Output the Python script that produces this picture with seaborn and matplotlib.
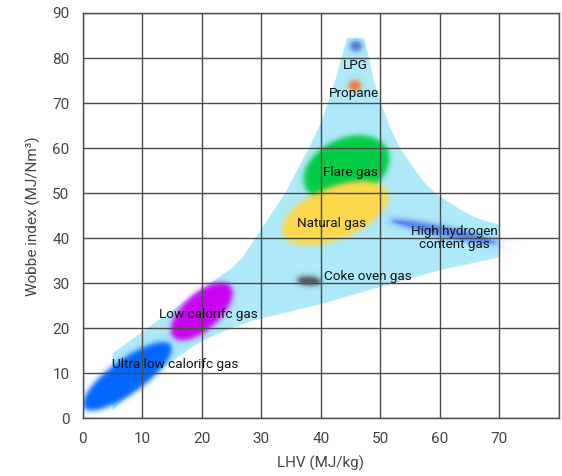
import numpy as np
import pandas as pd
import seaborn as sns
import matplotlib.pyplot as plt

# outline of the light blue area (LHV MJ/kg, Wobbe MJ/Nm3), walked round clockwise
band_lhv = [5, 5, 10, 15, 21, 25, 27, 29, 31.5, 34, 36, 38, 39.8, 41.2, 42.4, 43.5, 44.4,
            47.2, 48.1, 48.9, 50.1, 51.5, 53.3, 55.8, 57.3, 59.2, 61.5, 63.5, 65.6, 68, 70.1,
            70.1, 60, 50, 40, 33.2, 28, 25, 21, 18, 15, 12.2, 8.5, 5]
band_wobbe = [1.8, 14.4, 19.2, 24, 29.6, 33.3, 36, 40, 45, 50, 55, 60, 65, 70, 75, 80, 84.4,
              84.4, 80, 75, 70, 65, 60, 55.2, 52.5, 50, 48, 46.3, 44.8, 43.7, 43,
              35.8, 32.9, 29.2, 25.4, 23.2, 21.5, 20, 17.8, 15.5, 12.6, 10, 6, 1.8]

# gas families: centre of each blob
gas_names = ["Ultra low calorifc gas", "Low calorifc gas", "Coke oven gas", "Flare gas",
             "Natural gas", "High hydrogen content gas", "LPG", "Propane"]
gas_lhv = [7.4, 19.9, 37.9, 44.2, 42.3, 60.6, 45.8, 45.6]
gas_wobbe = [9.2, 23.6, 30.4, 55.3, 45.4, 41.3, 82.5, 73.7]
# blob half length / half width (px) and tilt (deg) on the page
blob_a = [53, 38, 11, 45, 56, 53, 5.5, 5.5]
blob_b = [17, 18, 4.5, 30, 26, 5.5, 5, 5]
blob_angle = [36, 42, -3, 25, 22, -12, 0, 0]
blob_color = ["#0066ff", "#cc00f2", "#4d4d4d", "#00cc44", "#ffd94a", "#4a74f0", "#4a70d2", "#f87528"]
blob_alpha = [1, 1, 0.95, 1, 1, 0.85, 0.95, 1]

# text labels
label_text = ["Ultra low calorifc gas", "Low calorifc gas", "Coke oven gas", "Flare gas",
              "Natural gas", "High hydrogen\ncontent gas", "LPG", "Propane"]
label_lhv = [15.5, 21.2, 40.6, 45.0, 41.8, 62.4, 45.8, 45.6]
label_wobbe = [12.0, 23.0, 31.5, 54.7, 43.2, 40.0, 78.4, 72.1]
label_ha = ["center", "center", "left", "center", "center", "center", "center", "center"]

xticks = list(range(0, 90, 10))
xtick_labels = [str(v) for v in range(0, 80, 10)] + [""]
yticks = list(range(0, 100, 10))

sns.set_theme(style="white")
plt.rcParams["font.family"] = ["Roboto", "DejaVu Sans"]

fig = plt.figure(figsize=(5.62, 4.76), dpi=100)
ax = fig.add_axes([0.147, 0.121, 0.8477, 0.8517])

band = pd.DataFrame({"lhv": band_lhv, "wobbe": band_wobbe})
ax.fill(band["lhv"], band["wobbe"], color="#aeeaf9", lw=0, zorder=1)

# soft edged blobs rendered as one RGBA image over the axes
px_x, px_y = 476 / 80, 405 / 90
nx, ny = 952, 810
gx, gy = np.meshgrid(np.linspace(0, 80, nx), np.linspace(0, 90, ny))
prem = np.zeros((ny, nx, 3))
acc = np.zeros((ny, nx))
for i in range(len(gas_names)):
    u = (gx - gas_lhv[i]) * px_x
    v = (gy - gas_wobbe[i]) * px_y
    t = np.deg2rad(blob_angle[i])
    p = u * np.cos(t) + v * np.sin(t)
    q = -u * np.sin(t) + v * np.cos(t)
    a, b = blob_a[i], blob_b[i]
    r = np.sqrt(p**2 / a**2 + q**2 / b**2) + 1e-9
    g = np.sqrt(p**2 / a**4 + q**2 / b**4) / r + 1e-9
    d = (r - 1) / g
    alpha = blob_alpha[i] / (1 + np.exp(np.clip(d / 1.5, -50, 50)))
    c = np.array(plt.matplotlib.colors.to_rgb(blob_color[i]))
    prem = c * alpha[..., None] + prem * (1 - alpha[..., None])
    acc = alpha + acc * (1 - alpha)
rgb = prem / np.maximum(acc, 1e-9)[..., None]
img = np.dstack([np.clip(rgb, 0, 1), acc])
ax.imshow(img, extent=(0, 80, 0, 90), origin="lower", aspect="auto",
          interpolation="bilinear", zorder=1.5)

for i in range(len(label_text)):
    ax.text(label_lhv[i], label_wobbe[i], label_text[i], ha=label_ha[i], va="center",
            fontsize=9.7, color="#111111", zorder=3, linespacing=1.0)

ax.set_xlim(0, 80)
ax.set_ylim(0, 90)
ax.set_xticks(xticks)
ax.set_xticklabels(xtick_labels)
ax.set_yticks(yticks)
ax.set_axisbelow(False)
ax.grid(True, color="#4a4a4a", lw=1.0)
for s in ax.spines.values():
    s.set_color("#4a4a4a")
    s.set_linewidth(1.0)
ax.tick_params(length=0, labelsize=11, labelcolor="#444444")
ax.tick_params(axis="x", pad=10)
ax.tick_params(axis="y", pad=9.5)
ax.set_xlabel("LHV (MJ/kg)", fontsize=11, color="#444444", labelpad=7)
ax.set_ylabel("Wobbe index (MJ/Nm³)", fontsize=11, color="#444444", labelpad=8)

fig.savefig("out.png", dpi=100)
